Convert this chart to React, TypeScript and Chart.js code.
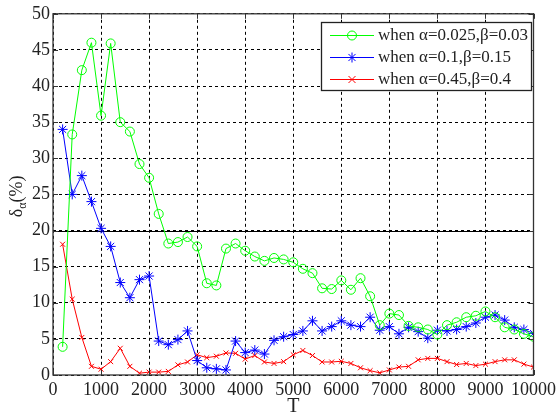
import React, { useEffect, useRef } from "react";
import { Chart, registerables } from "chart.js";

Chart.register(...registerables);

const T = [
  200, 400, 600, 800, 1000, 1200, 1400, 1600, 1800, 2000,
  2200, 2400, 2600, 2800, 3000, 3200, 3400, 3600, 3800, 4000,
  4200, 4400, 4600, 4800, 5000, 5200, 5400, 5600, 5800, 6000,
  6200, 6400, 6600, 6800, 7000, 7200, 7400, 7600, 7800, 8000,
  8200, 8400, 8600, 8800, 9000, 9200, 9400, 9600, 9800, 10000,
];

const greenVals = [
  3.9, 33.3, 42.2, 46.0, 35.9, 45.9, 35.0, 33.7, 29.2, 27.3,
  22.3, 18.2, 18.4, 19.1, 17.8, 12.7, 12.4, 17.5, 18.2, 17.2,
  16.4, 15.8, 16.2, 16.0, 15.6, 14.7, 14.1, 12.0, 11.9, 13.1,
  11.8, 13.4, 10.9, 6.9, 8.5, 8.3, 6.8, 6.6, 6.3, 5.6,
  6.9, 7.3, 8.0, 8.2, 8.8, 8.0, 6.6, 6.3, 5.7, 5.3,
];

const blueVals = [
  34.0, 25.0, 27.6, 24.0, 20.3, 17.8, 12.8, 10.7, 13.2, 13.7,
  4.7, 4.2, 4.9, 6.1, 2.0, 1.0, 0.85, 0.7, 4.7, 3.1,
  3.45, 2.9, 4.8, 5.3, 5.6, 6.1, 7.5, 6.1, 6.7, 7.5,
  6.9, 6.7, 8.0, 6.2, 6.7, 5.7, 6.6, 6.0, 5.1, 6.2,
  6.1, 6.3, 6.7, 7.2, 8.0, 8.3, 7.6, 6.6, 6.3, 5.75,
];

const redVals = [
  18.1, 10.5, 5.2, 1.2, 0.8, 1.85, 3.7, 1.2, 0.25, 0.4,
  0.4, 0.5, 1.4, 1.8, 2.8, 2.4, 2.6, 3.05, 3.0, 2.2,
  2.7, 1.8, 1.6, 1.85, 2.8, 3.4, 2.7, 1.8, 1.8, 1.9,
  1.6, 1.0, 0.6, 0.3, 0.7, 1.1, 1.2, 2.1, 2.3, 2.3,
  1.85, 1.45, 1.6, 1.3, 1.5, 1.85, 2.1, 2.1, 1.5, 1.1,
];

const seriesLabels = [
  "when α=0.025,β=0.03",
  "when α=0.1,β=0.15",
  "when α=0.45,β=0.4",
];

const xTicks = [0, 1000, 2000, 3000, 4000, 5000, 6000, 7000, 8000, 9000, 10000];
const yTicks = [0, 5, 10, 15, 20, 25, 30, 35, 40, 45, 50];
const refLineY = 20;

const SERIF = "'Liberation Serif', 'Times New Roman', serif";

function drawMarker(ctx: CanvasRenderingContext2D, kind: string, x: number, y: number, color: string) {
  ctx.save();
  ctx.strokeStyle = color;
  ctx.lineWidth = 1;
  ctx.beginPath();
  if (kind === "circle") {
    ctx.arc(x, y, 4.5, 0, Math.PI * 2);
  } else if (kind === "star") {
    const r = 5;
    for (let i = 0; i < 4; i++) {
      const a = (i * Math.PI) / 4;
      ctx.moveTo(x - r * Math.cos(a), y - r * Math.sin(a));
      ctx.lineTo(x + r * Math.cos(a), y + r * Math.sin(a));
    }
  } else {
    const r = 3.5;
    ctx.moveTo(x - r, y - r);
    ctx.lineTo(x + r, y + r);
    ctx.moveTo(x - r, y + r);
    ctx.lineTo(x + r, y - r);
  }
  ctx.stroke();
  ctx.restore();
}

const decorPlugin = {
  id: "decor",
  beforeDatasetsDraw(chart: any) {
    const { ctx, chartArea: a, scales } = chart;
    const y = Math.round(scales.y.getPixelForValue(refLineY)) + 0.5;
    ctx.save();
    ctx.strokeStyle = "#000";
    ctx.lineWidth = 1.2;
    ctx.beginPath();
    ctx.moveTo(a.left, y);
    ctx.lineTo(a.right, y);
    ctx.stroke();
    ctx.restore();
  },
  afterDraw(chart: any) {
    const { ctx, chartArea: a, scales } = chart;
    ctx.save();
    // frame
    ctx.strokeStyle = "#333";
    ctx.lineWidth = 1.3;
    ctx.strokeRect(a.left, a.top, a.right - a.left, a.bottom - a.top);
    // inner ticks
    ctx.lineWidth = 1;
    ctx.beginPath();
    for (const v of xTicks) {
      const x = Math.round(scales.x.getPixelForValue(v)) + 0.5;
      ctx.moveTo(x, a.bottom);
      ctx.lineTo(x, a.bottom - 5);
      ctx.moveTo(x, a.top);
      ctx.lineTo(x, a.top + 5);
    }
    for (const v of yTicks) {
      const y = Math.round(scales.y.getPixelForValue(v)) + 0.5;
      ctx.moveTo(a.left, y);
      ctx.lineTo(a.left + 5, y);
      ctx.moveTo(a.right, y);
      ctx.lineTo(a.right - 5, y);
    }
    ctx.stroke();

    // legend
    const lx = 321, ly = 22, lw = 210, lh = 68;
    ctx.fillStyle = "#fff";
    ctx.fillRect(lx, ly, lw, lh);
    ctx.strokeStyle = "#222";
    ctx.lineWidth = 1.3;
    ctx.strokeRect(lx + 0.5, ly + 0.5, lw, lh);
    const colors = ["#00ff00", "#0000ff", "#ff0000"];
    const kinds = ["circle", "star", "cross"];
    const rows = [35, 57, 79];
    ctx.font = `17px ${SERIF}`;
    ctx.textBaseline = "middle";
    ctx.textAlign = "left";
    for (let i = 0; i < 3; i++) {
      const ry = rows[i] + 0.5;
      ctx.strokeStyle = colors[i];
      ctx.lineWidth = 1;
      ctx.beginPath();
      ctx.moveTo(330, ry);
      ctx.lineTo(374, ry);
      ctx.stroke();
      drawMarker(ctx, kinds[i], 352, ry, colors[i]);
      ctx.fillStyle = "#222";
      ctx.fillText(seriesLabels[i], 378, rows[i] + 1);
    }

    // x title
    ctx.fillStyle = "#222";
    ctx.font = `20px ${SERIF}`;
    ctx.textAlign = "center";
    ctx.textBaseline = "alphabetic";
    ctx.fillText("T", (a.left + a.right) / 2, 412);

    // y title
    ctx.translate(22, (a.top + a.bottom) / 2 + 2);
    ctx.rotate(-Math.PI / 2);
    const big = `18px ${SERIF}`;
    const small = `12px ${SERIF}`;
    ctx.font = big;
    const w1 = ctx.measureText("δ").width;
    const w3 = ctx.measureText("(%)").width;
    ctx.font = small;
    const w2 = ctx.measureText("α").width;
    const total = w1 + w2 + w3;
    let cx = -total / 2;
    ctx.textAlign = "left";
    ctx.font = big;
    ctx.fillText("δ", cx, 0);
    cx += w1;
    ctx.font = small;
    ctx.fillText("α", cx, 4);
    cx += w2;
    ctx.font = big;
    ctx.fillText("(%)", cx, 0);
    ctx.restore();
  },
};

export default function App() {
  const ref = useRef<HTMLCanvasElement>(null);
  useEffect(() => {
    document.body.style.margin = "0";
    const mk = (vals: number[]) => T.map((t, i) => ({ x: t, y: vals[i] }));
    const chart = new Chart(ref.current!, {
      type: "line",
      data: {
        datasets: [
          {
            label: seriesLabels[0],
            data: mk(greenVals),
            borderColor: "#00ff00",
            backgroundColor: "transparent",
            borderWidth: 1,
            pointStyle: "circle",
            pointRadius: 4.5,
            pointBorderColor: "#00ff00",
            pointBackgroundColor: "transparent",
            pointBorderWidth: 1,
            tension: 0,
          },
          {
            label: seriesLabels[1],
            data: mk(blueVals),
            borderColor: "#0000ff",
            backgroundColor: "transparent",
            borderWidth: 1,
            pointStyle: "star",
            pointRadius: 5,
            pointBorderColor: "#0000ff",
            pointBackgroundColor: "transparent",
            pointBorderWidth: 1,
            tension: 0,
          },
          {
            label: seriesLabels[2],
            data: mk(redVals),
            borderColor: "#ff0000",
            backgroundColor: "transparent",
            borderWidth: 1,
            pointStyle: "crossRot",
            pointRadius: 3.5,
            pointBorderColor: "#ff0000",
            pointBackgroundColor: "transparent",
            pointBorderWidth: 1,
            tension: 0,
          },
        ],
      },
      options: {
        responsive: false,
        animation: false,
        layout: { padding: { top: 11, right: 21, left: 0, bottom: 0 } },
        plugins: { legend: { display: false }, tooltip: { enabled: false } },
        scales: {
          x: {
            type: "linear",
            min: 0,
            max: 10000,
            afterBuildTicks: (s: any) => {
              s.ticks = xTicks.map((v) => ({ value: v }));
            },
            afterFit: (s: any) => {
              s.height = 42;
            },
            grid: { color: "#000", lineWidth: 1, drawTicks: false },
            border: { display: false, dash: [3, 3] },
            ticks: {
              color: "#222",
              font: { family: SERIF, size: 18 },
              padding: 4,
              maxRotation: 0,
              autoSkip: false,
              callback: (v: any) => String(v),
            },
          },
          y: {
            type: "linear",
            min: 0,
            max: 50,
            afterBuildTicks: (s: any) => {
              s.ticks = yTicks.map((v) => ({ value: v }));
            },
            afterFit: (s: any) => {
              s.width = 53;
            },
            grid: { color: "#000", lineWidth: 1, drawTicks: false },
            border: { display: false, dash: [3, 3] },
            ticks: {
              color: "#222",
              font: { family: SERIF, size: 18 },
              padding: 3,
              autoSkip: false,
              callback: (v: any) => String(v),
            },
          },
        },
      },
      plugins: [decorPlugin],
    });
    return () => chart.destroy();
  }, []);
  return (
    <div style={{ position: "absolute", left: 0, top: 0, width: 560, height: 417, background: "#fff" }}>
      <canvas ref={ref} width={560} height={417} />
    </div>
  );
}
